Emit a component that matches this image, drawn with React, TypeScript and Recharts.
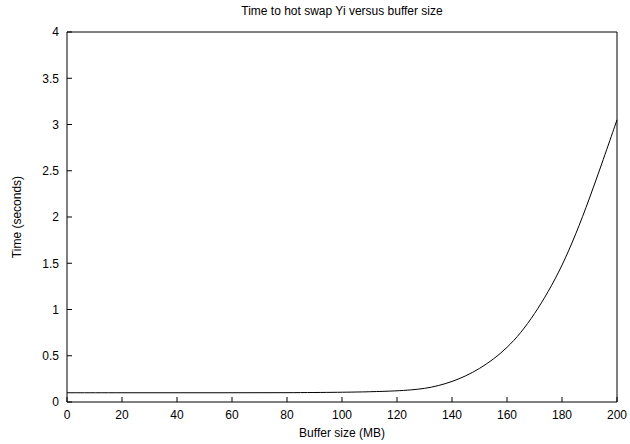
import { LineChart, Line, XAxis, YAxis } from 'recharts'

const bufferSizes = [0, 20, 40, 60, 80, 100, 110, 120, 125, 130, 135, 140, 145, 150, 155, 160, 165, 170, 175, 180, 185, 190, 195, 200]
const swapTimes = [0.1, 0.1, 0.1, 0.1, 0.1, 0.105, 0.11, 0.12, 0.13, 0.145, 0.175, 0.22, 0.28, 0.36, 0.46, 0.585, 0.745, 0.95, 1.19, 1.47, 1.81, 2.2, 2.62, 3.05]
const xTicks = [0, 20, 40, 60, 80, 100, 120, 140, 160, 180, 200]
const yTicks = [0, 0.5, 1, 1.5, 2, 2.5, 3, 3.5, 4]

const data = bufferSizes.map((size, i) => ({ size, time: swapTimes[i] }))

const font = '"Liberation Sans", Arial, sans-serif'
const tickStyle = { fontSize: 12, fill: '#000', fontFamily: font }

export default function App() {
  return (
    <div style={{ position: 'absolute', left: 0, top: 0, width: 630, height: 444, background: '#fff', fontFamily: font }}>
      <div style={{ position: 'absolute', left: 0, width: 684, top: 4, textAlign: 'center', fontSize: 12 }}>
        Time to hot swap Yi versus buffer size
      </div>
      <div style={{ position: 'absolute', left: 0, width: 684, top: 426, textAlign: 'center', fontSize: 12 }}>
        Buffer size (MB)
      </div>
      <div
        style={{
          position: 'absolute',
          left: 17,
          top: 217,
          fontSize: 12,
          whiteSpace: 'nowrap',
          transform: 'translate(-50%, -50%) rotate(-90deg)',
        }}
      >
        Time (seconds)
      </div>
      <LineChart width={630} height={444} data={data} margin={{ top: 31, right: 12, bottom: 0, left: 0 }}>
        <XAxis
          xAxisId="bottom"
          dataKey="size"
          type="number"
          domain={[0, 200]}
          ticks={xTicks}
          height={42}
          tickSize={-5}
          tickMargin={13}
          tick={tickStyle}
          axisLine={{ stroke: '#000' }}
          tickLine={{ stroke: '#000' }}
        />
        <XAxis
          xAxisId="top"
          orientation="top"
          dataKey="size"
          type="number"
          domain={[0, 200]}
          ticks={xTicks}
          height={1}
          tickSize={-5}
          tick={false}
          axisLine={{ stroke: '#000' }}
          tickLine={{ stroke: '#000' }}
        />
        <YAxis
          yAxisId="left"
          type="number"
          domain={[0, 4]}
          ticks={yTicks}
          width={67}
          tickSize={-5}
          tickMargin={13}
          tick={tickStyle}
          axisLine={{ stroke: '#000' }}
          tickLine={{ stroke: '#000' }}
        />
        <YAxis
          yAxisId="right"
          orientation="right"
          type="number"
          domain={[0, 4]}
          ticks={yTicks}
          width={1}
          tickSize={-5}
          tick={false}
          axisLine={{ stroke: '#000' }}
          tickLine={{ stroke: '#000' }}
        />
        <Line
          xAxisId="bottom"
          yAxisId="left"
          type="basis"
          dataKey="time"
          stroke="#000"
          strokeWidth={1}
          dot={false}
          isAnimationActive={false}
        />
      </LineChart>
    </div>
  )
}
